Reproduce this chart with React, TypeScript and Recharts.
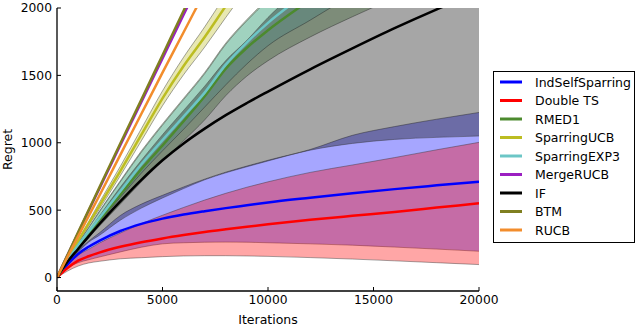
import React from "react";
import { ComposedChart, Area, Line, XAxis, YAxis, Legend, Label } from "recharts";

// iterations sampled along the x axis
const iterations = [0, 500, 1000, 1500, 2000, 3000, 4000, 5000, 6000, 7000, 8000, 9000, 10000, 12000, 14000, 16000, 18000, 20000];

// mean regret + lower/upper band edges
const indSelfSparring = [0, 98, 175, 228, 272, 345, 398, 437, 467, 492, 515, 536, 557, 592, 625, 656, 684, 711];
const indSelfSparringLo = [0, 70, 110, 132, 152, 190, 225, 250, 258, 262, 263, 262, 258, 250, 240, 226, 211, 195];
const indSelfSparringHi = [0, 108, 198, 270, 330, 460, 545, 610, 672, 730, 782, 827, 870, 950, 1055, 1120, 1175, 1225];

const doubleTS = [0, 70, 125, 158, 185, 228, 262, 290, 315, 338, 358, 377, 395, 428, 458, 487, 519, 551];
const doubleTSLo = [0, 48, 85, 108, 120, 139, 147, 155, 160, 162, 162, 160, 157, 148, 137, 124, 110, 96];
const doubleTSHi = [0, 88, 165, 210, 255, 330, 400, 462, 520, 575, 625, 670, 710, 780, 835, 890, 948, 1003];

const rmed1 = [0, 124, 232, 330, 425, 615, 805, 980, 1160, 1345, 1550, 1705, 1835, 2060, 2270, 2470, 2660, 2840];
const rmed1Lo = [0, 115, 210, 295, 380, 545, 710, 865, 1015, 1170, 1350, 1495, 1609, 1785, 1935, 2075, 2210, 2340];
const rmed1Hi = [0, 138, 255, 372, 490, 718, 940, 1140, 1330, 1522, 1740, 1915, 2070, 2330, 2570, 2800, 3010, 3210];

const sparringUCB = [0, 135, 270, 400, 530, 790, 1060, 1330, 1570, 1785, 2015, 2240, 2465, 2910, 3350, 3790, 4230, 4670];
const sparringUCBLo = [0, 131, 260, 385, 505, 755, 1015, 1275, 1505, 1710, 1930, 2145, 2360, 2785, 3210, 3640, 4060, 4490];
const sparringUCBHi = [0, 139, 280, 415, 555, 825, 1105, 1385, 1635, 1860, 2100, 2335, 2570, 3035, 3490, 3940, 4400, 4850];

const sparringEXP3 = [0, 128, 240, 340, 440, 640, 840, 1020, 1195, 1372, 1580, 1745, 1890, 2130, 2350, 2560, 2760, 2950];
const sparringEXP3Lo = [0, 120, 222, 318, 410, 595, 775, 940, 1100, 1265, 1430, 1585, 1720, 1910, 2100, 2290, 2470, 2650];
const sparringEXP3Hi = [0, 136, 252, 368, 485, 710, 930, 1130, 1320, 1512, 1730, 1905, 2060, 2315, 2550, 2780, 2990, 3190];

const mergeRUCB = [0, 166, 330, 495, 657, 982, 1302, 1625, 1950, 2270, 2590, 2910, 3230, 3870, 4510, 5150, 5790, 6430];

const ifMean = [0, 118, 212, 305, 395, 565, 725, 870, 995, 1105, 1205, 1295, 1380, 1545, 1700, 1850, 1990, 2120];
const ifLo = [0, 100, 188, 262, 312, 425, 515, 590, 660, 725, 777, 822, 865, 945, 995, 1025, 1040, 1050];
const ifHi = [0, 130, 238, 345, 455, 670, 870, 1060, 1240, 1420, 1610, 1760, 1930, 2200, 2450, 2700, 2950, 3210];

const btm = [0, 168, 335, 500, 665, 995, 1320, 1650, 1980, 2305, 2630, 2955, 3280, 3930, 4580, 5230, 5880, 6530];
const rucb = [0, 153, 305, 455, 605, 910, 1215, 1520, 1820, 2120, 2420, 2720, 3020, 3620, 4220, 4820, 5420, 6020];

const xTicks = [0, 5000, 10000, 15000, 20000];
const yTicks = [0, 500, 1000, 1500, 2000];
const legendNames = ["IndSelfSparring", "Double TS", "RMED1", "SparringUCB", "SparringEXP3", "MergeRUCB", "IF", "BTM", "RUCB"];

const data = iterations.map((t, i) => ({
  t,
  IndSelfSparring: indSelfSparring[i],
  IndSelfSparringBand: [indSelfSparringLo[i], indSelfSparringHi[i]],
  "Double TS": doubleTS[i],
  DoubleTSBand: [doubleTSLo[i], doubleTSHi[i]],
  RMED1: rmed1[i],
  RMED1Band: [rmed1Lo[i], rmed1Hi[i]],
  SparringUCB: sparringUCB[i],
  SparringUCBBand: [sparringUCBLo[i], sparringUCBHi[i]],
  SparringEXP3: sparringEXP3[i],
  SparringEXP3Band: [sparringEXP3Lo[i], sparringEXP3Hi[i]],
  MergeRUCB: mergeRUCB[i],
  IF: ifMean[i],
  IFBand: [ifLo[i], ifHi[i]],
  BTM: btm[i],
  RUCB: rucb[i],
}));

const FONT = "'DejaVu Sans', sans-serif";
const GAP = 6;
const TICK_LEN = 4;

const lineColor: Record<string, string> = {
  IndSelfSparring: "#0000ff",
  "Double TS": "#ff0000",
  RMED1: "#4c8a2e",
  SparringUCB: "#bcbd22",
  SparringEXP3: "#6cc6c6",
  MergeRUCB: "#9b1fc1",
  IF: "#000000",
  BTM: "#7f7f20",
  RUCB: "#f28d2c",
};

// bands drawn in legend order, like fill_between with alpha
const bands = [
  { key: "IndSelfSparringBand", fill: "#0000ff" },
  { key: "DoubleTSBand", fill: "#ff0000" },
  { key: "RMED1Band", fill: "#4b8b3b" },
  { key: "SparringUCBBand", fill: "#bcbd22" },
  { key: "SparringEXP3Band", fill: "#64c8c8" },
  { key: "IFBand", fill: "#000000" },
];

function BottomTick(props: any) {
  const { x, y, payload } = props;
  const axisY = y - GAP;
  return (
    <g>
      <line x1={x} x2={x} y1={axisY} y2={axisY - TICK_LEN} stroke="#000" />
      <text x={x} y={axisY + 9} dy="0.36em" textAnchor="middle" fontFamily={FONT} fontSize={12.3} fill="#000">
        {payload.value}
      </text>
    </g>
  );
}

function LeftTick(props: any) {
  const { x, y, payload } = props;
  const axisX = x + GAP;
  return (
    <g>
      <line x1={axisX} x2={axisX + TICK_LEN} y1={y} y2={y} stroke="#000" />
      <text x={axisX - 5} y={y} dy="0.36em" textAnchor="end" fontFamily={FONT} fontSize={12.3} fill="#000">
        {payload.value}
      </text>
    </g>
  );
}

function TopTick(props: any) {
  const { x, y } = props;
  const axisY = y + GAP;
  return <line x1={x} x2={x} y1={axisY} y2={axisY + TICK_LEN} stroke="#000" />;
}

function RightTick(props: any) {
  const { x, y } = props;
  const axisX = x - GAP;
  return <line x1={axisX} x2={axisX - TICK_LEN} y1={y} y2={y} stroke="#000" />;
}

function LegendBox() {
  return (
    <svg width={142} height={172} style={{ display: "block" }}>
      <rect x={0.5} y={0.5} width={141} height={171} fill="#fff" stroke="#000" />
      {legendNames.map((name, i) => {
        const cy = 11 + i * 18.5;
        return (
          <g key={name}>
            <line x1={7} x2={29} y1={cy} y2={cy} stroke={lineColor[name]} strokeWidth={3} />
            <text x={42} y={cy} dy="0.36em" fontFamily={FONT} fontSize={12.5} fill="#000">
              {name}
            </text>
          </g>
        );
      })}
    </svg>
  );
}

const axisLine = { stroke: "#000", strokeWidth: 1.3 };

export default function App() {
  return (
    <div style={{ position: "absolute", left: 0, top: 0, background: "#fff" }}>
      <ComposedChart width={636} height={326} data={data} margin={{ top: 8, right: 157, bottom: 0, left: 0 }}>
        <XAxis
          dataKey="t"
          type="number"
          domain={[0, 20000]}
          ticks={xTicks}
          interval={0}
          allowDataOverflow
          height={35}
          tickSize={0}
          tickMargin={GAP}
          tickLine={false}
          axisLine={axisLine}
          tick={(p: any) => <BottomTick {...p} />}
        >
          <Label
            content={({ viewBox }: any) => (
              <text x={viewBox.x + viewBox.width / 2} y={viewBox.y + 28} dy="0.36em" textAnchor="middle" fontFamily={FONT} fontSize={12.5} fill="#000">
                Iterations
              </text>
            )}
          />
        </XAxis>
        <XAxis
          xAxisId="top"
          orientation="top"
          dataKey="t"
          type="number"
          domain={[0, 20000]}
          ticks={xTicks}
          interval={0}
          allowDataOverflow
          height={0}
          tickSize={0}
          tickMargin={GAP}
          tickLine={false}
          axisLine={axisLine}
          tick={(p: any) => <TopTick {...p} />}
        />
        <YAxis
          type="number"
          domain={[-100, 2000]}
          ticks={yTicks}
          interval={0}
          allowDataOverflow
          width={57}
          tickSize={0}
          tickMargin={GAP}
          tickLine={false}
          axisLine={axisLine}
          tick={(p: any) => <LeftTick {...p} />}
        >
          <Label
            content={({ viewBox }: any) => (
              <text
                transform={`translate(7, ${viewBox.y + viewBox.height / 2}) rotate(-90)`}
                dy="0.36em"
                textAnchor="middle"
                fontFamily={FONT}
                fontSize={12.5}
                fill="#000"
              >
                Regret
              </text>
            )}
          />
        </YAxis>
        <YAxis
          yAxisId="right"
          orientation="right"
          type="number"
          domain={[-100, 2000]}
          ticks={yTicks}
          interval={0}
          allowDataOverflow
          width={0}
          tickSize={0}
          tickMargin={GAP}
          tickLine={false}
          axisLine={axisLine}
          tick={(p: any) => <RightTick {...p} />}
        />
        {bands.map((b) => (
          <Area
            key={b.key}
            dataKey={b.key}
            type="monotone"
            fill={b.fill}
            fillOpacity={0.35}
            stroke="#333"
            strokeOpacity={0.55}
            strokeWidth={0.8}
            dot={false}
            activeDot={false}
            legendType="none"
            isAnimationActive={false}
          />
        ))}
        {legendNames.map((name) => (
          <Line
            key={name}
            dataKey={name}
            type="monotone"
            stroke={lineColor[name]}
            strokeWidth={2.5}
            dot={false}
            activeDot={false}
            isAnimationActive={false}
          />
        ))}
        <Legend
          layout="vertical"
          align="center"
          verticalAlign="middle"
          wrapperStyle={{ left: 493, top: 71, width: 142, height: 172 }}
          content={() => <LegendBox />}
        />
      </ComposedChart>
    </div>
  );
}
